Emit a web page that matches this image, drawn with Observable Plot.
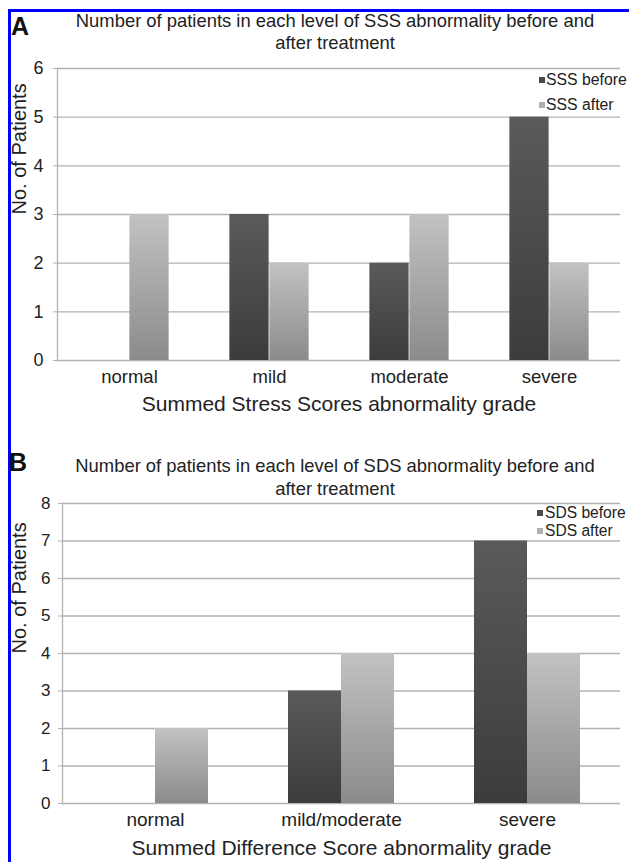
<!DOCTYPE html>
<html><head><meta charset="utf-8">
<script src="https://cdn.jsdelivr.net/npm/d3@7"></script>
<script src="https://cdn.jsdelivr.net/npm/@observablehq/plot@0.6"></script>
<style>
body{margin:0;background:#fff;}
#wrap{position:relative;width:629px;height:862px;overflow:hidden;background:#fff;font-family:"Liberation Sans",Arial,sans-serif;color:#222;}
.border{position:absolute;left:8px;top:9px;right:-10px;bottom:-10px;border-left:3px solid #0000ff;border-top:3px solid #0000ff;}
.title{position:absolute;text-align:center;font-size:18.4px;white-space:nowrap;}
.letter{position:absolute;font-weight:bold;font-size:25px;line-height:25px;color:#111;}
.panel{position:absolute;left:0;}
.lg{position:absolute;height:20px;display:flex;align-items:center;white-space:nowrap;font-size:16px;}
.sw{width:6px;height:6px;margin-right:1px;flex:none;}
</style></head>
<body>
<div id="wrap">
  <div id="panelA" class="panel" style="top:0px"></div>
  <div id="panelB" class="panel" style="top:440px"></div>
  <div class="border"></div>
  <div class="letter" style="left:11px;top:13.7px">A</div>
  <div class="letter" style="left:9px;top:450px">B</div>
  <div id="titleA" class="title" style="left:35px;width:600px;top:10px;line-height:22px"></div>
  <div id="titleB" class="title" style="left:35px;width:600px;top:454px;line-height:23px"></div>
  <div id="legendA"></div>
  <div id="legendB"></div>
</div>
<script>
// ---- data ----
const gradesA = ["normal", "mild", "moderate", "severe"];
const sssBefore = [0, 3, 2, 5];
const sssAfter = [3, 2, 3, 2];
const yTicksA = [0, 1, 2, 3, 4, 5, 6];
const seriesA = ["SSS before", "SSS after"];
const titleA = ["Number of patients in each level of SSS abnormality before and", "after treatment"];
const xTitleA = "Summed Stress Scores abnormality grade";

const gradesB = ["normal", "mild/moderate", "severe"];
const sdsBefore = [0, 3, 7];
const sdsAfter = [2, 4, 4];
const yTicksB = [0, 1, 2, 3, 4, 5, 6, 7, 8];
const seriesB = ["SDS before", "SDS after"];
const titleB = ["Number of patients in each level of SDS abnormality before and", "after treatment"];
const xTitleB = "Summed Difference Score abnormality grade";

const yTitle = "No. of Patients";

function panel(o) {
  const rows = o.grades.flatMap((g, i) => [
    {grade: g, series: "before", value: o.before[i]},
    {grade: g, series: "after", value: o.after[i]}
  ]);
  const width = 629;
  const band = (width - o.ml - o.mr) / o.grades.length;
  const half = band / 2;
  const chart = Plot.plot({
    width, height: o.height,
    marginTop: o.mt, marginBottom: o.mb, marginLeft: o.ml, marginRight: o.mr,
    style: {fontFamily: "'Liberation Sans', Arial, sans-serif", background: "transparent", overflow: "visible", color: "#222"},
    x: {domain: o.grades, padding: 0, axis: null},
    y: {domain: [0, d3.max(o.yTicks)], axis: null},
    marks: [
      Plot.ruleY(o.yTicks, {stroke: "#b2b2b2", strokeWidth: 1.3}),
      Plot.frame({anchor: "left", stroke: "#b2b2b2", strokeWidth: 1.3}),
      Plot.barY(rows.filter(d => d.series === "before"), {x: "grade", y: "value", fill: `url(#${o.gid}b)`, insetLeft: half - o.barW, insetRight: half}),
      Plot.barY(rows.filter(d => d.series === "after"), {x: "grade", y: "value", fill: `url(#${o.gid}a)`, insetLeft: half, insetRight: half - o.barW}),
      Plot.axisY({ticks: o.yTicks, tickSize: 4, tickPadding: o.tickPad, fontSize: o.tickFont, stroke: "#b2b2b2", fill: "#222", label: null, tickFormat: d => String(d)}),
      Plot.axisX({tickSize: 0, tickPadding: o.catPad, fontSize: o.catFont, fill: "#222", label: null}),
      Plot.text([o.xTitle], {frameAnchor: "bottom", dy: o.xTitleDy, fontSize: 21, fill: "#222", text: d => d}),
      Plot.text([yTitle], {frameAnchor: "left", dx: o.yTitleDx, rotate: -90, fontSize: 20, fill: "#222", text: d => d})
    ]
  });
  const defs = document.createElementNS("http://www.w3.org/2000/svg", "defs");
  defs.innerHTML =
    `<linearGradient id="${o.gid}b" x1="0" y1="0" x2="0" y2="1"><stop offset="0" stop-color="#5a5a5a"/><stop offset="1" stop-color="#3c3c3c"/></linearGradient>` +
    `<linearGradient id="${o.gid}a" x1="0" y1="0" x2="0" y2="1"><stop offset="0" stop-color="#c2c2c2"/><stop offset="1" stop-color="#8b8b8b"/></linearGradient>`;
  chart.insertBefore(defs, chart.firstChild);
  return chart;
}

document.getElementById("panelA").appendChild(panel({
  grades: gradesA, before: sssBefore, after: sssAfter, yTicks: yTicksA, xTitle: xTitleA, gid: "ga",
  height: 430, mt: 68, mb: 70, ml: 57, mr: 9, barW: 40,
  tickFont: 18, catFont: 18.5, tickPad: 10, catPad: 9, xTitleDy: 50, yTitleDx: -38
}));
document.getElementById("panelB").appendChild(panel({
  grades: gradesB, before: sdsBefore, after: sdsAfter, yTicks: yTicksB, xTitle: xTitleB, gid: "gb",
  height: 422, mt: 63, mb: 59, ml: 62, mr: 9, barW: 53,
  tickFont: 17, catFont: 19, tickPad: 8, catPad: 9, xTitleDy: 51, yTitleDx: -43
}));

function setTitle(id, lines) {
  const el = document.getElementById(id);
  lines.forEach(t => { const d = document.createElement("div"); d.textContent = t; el.appendChild(d); });
}
setTitle("titleA", titleA);
setTitle("titleB", titleB);

function legend(id, names, x, ys, fontSize, txtX) {
  const el = document.getElementById(id);
  const cols = ["#4a4a4a", "#b0b0b0"];
  names.forEach((n, i) => {
    const it = document.createElement("div");
    it.className = "lg";
    it.style.left = x + "px";
    it.style.top = (ys[i] - 10) + "px";
    it.style.fontSize = fontSize + "px";
    const sw = document.createElement("div");
    sw.className = "sw";
    sw.style.background = cols[i];
    sw.style.marginRight = (txtX - x - 6) + "px";
    const t = document.createElement("span");
    t.textContent = n;
    it.appendChild(sw); it.appendChild(t);
    el.appendChild(it);
  });
}
legend("legendA", seriesA, 539, [80, 105], 15.8, 546);
legend("legendB", seriesB, 537, [513, 531], 15.6, 545);
</script>
</body></html>
